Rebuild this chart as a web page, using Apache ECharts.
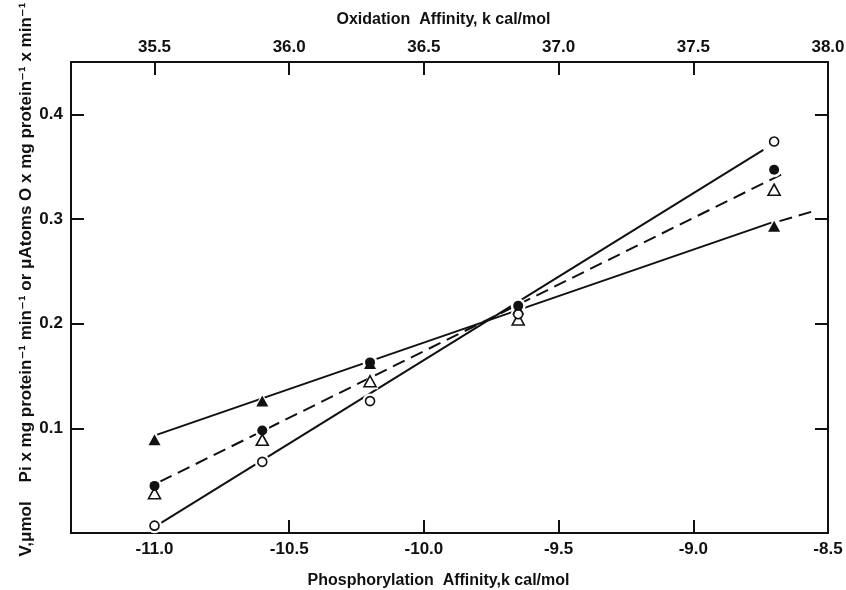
<!DOCTYPE html>
<html>
<head>
<meta charset="utf-8">
<script src="https://cdn.jsdelivr.net/npm/echarts@6/dist/echarts.min.js"></script>
<style>
  html, body { margin: 0; background: #fff; }
  #main { width: 846px; height: 590px; }
</style>
</head>
<body>
<div id="main"></div>
<script>
// phosphorylation affinity (bottom axis) of each measurement
var phosX = [-11.0, -10.6, -10.2, -9.65, -8.70];

// marker series
var openCircle     = [0.007, 0.068, 0.126, 0.209, 0.374];
var filledCircle   = [0.045, 0.098, 0.163, 0.217, 0.347];
var openTriangle   = [0.038, 0.089, 0.145, 0.204, 0.328];
var filledTriangle = [0.089, 0.126, 0.162, 0.214, 0.293];

// fitted lines (end points)
var circleFitX = [-10.98, -8.74];
var circleFitY = [0.009, 0.366];
var dashFitX = [-10.98, -8.67];
var dashFitY = [0.049, 0.343];
var triFitX = [-10.99, -8.71];
var triFitY = [0.094, 0.2965];
var triExtX = [-8.68, -8.56];
var triExtY = [0.298, 0.307];

// tick labels
var phosTicks = [-11.0, -10.5, -10.0, -9.5, -9.0, -8.5];
var oxTicks = [35.5, 36.0, 36.5, 37.0, 37.5, 38.0];
var yTicks = [0.1, 0.2, 0.3, 0.4];

var FONT = "'Liberation Sans', 'DejaVu Sans', sans-serif";
var INK = '#111';

function pairs(xs, ys) {
  return xs.map(function (x, i) { return [x, ys[i]]; });
}

var tickStyle = { show: true, inside: true, length: 13, lineStyle: { color: INK, width: 2 } };
var lineStyleAxis = { show: true, onZero: false, lineStyle: { color: INK, width: 2 } };
var labelStyle = { color: INK, fontFamily: FONT, fontSize: 17, fontWeight: 'bold' };

function fitLine(xs, ys, dashed) {
  return {
    type: 'line', data: pairs(xs, ys), symbol: 'none', z: 1, silent: true,
    lineStyle: { color: INK, width: 2, type: dashed ? [13, 7] : 'solid' }
  };
}

function halo(ys, sym) {
  return {
    type: 'scatter', data: pairs(phosX, ys), symbol: sym, z: 2, silent: true,
    symbolSize: sym === 'circle' ? 15 : [17, 16],
    itemStyle: { color: '#fff', opacity: 1 }
  };
}

function marks(ys, sym, filled) {
  return {
    type: 'scatter', data: pairs(phosX, ys), symbol: sym, z: 3, silent: true,
    symbolSize: sym === 'circle' ? (filled ? 10 : 9) : [12, 11],
    itemStyle: filled ? { color: INK, opacity: 1 }
                      : { color: '#fff', borderColor: INK, borderWidth: 1.6, opacity: 1 }
  };
}

var chart = echarts.init(document.getElementById('main'));

var option = {
  backgroundColor: '#fff',
  animation: false,
  grid: { left: 71, right: 18, top: 62, bottom: 57, containLabel: false, outerBoundsMode: 'none' },
  xAxis: [{
    type: 'value', position: 'bottom', min: -11.31, max: -8.5,
    axisLine: lineStyleAxis, splitLine: { show: false },
    axisTick: Object.assign({ customValues: phosTicks }, tickStyle),
    axisLabel: Object.assign({ customValues: phosTicks, margin: 8,
      formatter: function (v) { return v.toFixed(1); } }, labelStyle),
    name: 'Phosphorylation  Affinity,k cal/mol', nameLocation: 'middle', nameGap: 40,
    nameTextStyle: { color: INK, fontFamily: FONT, fontSize: 16, fontWeight: 'bold', padding: [0, 22, 0, 0] }
  }, {
    type: 'value', position: 'top', min: 35.19, max: 38.0,
    axisLine: lineStyleAxis, splitLine: { show: false },
    axisTick: Object.assign({ customValues: oxTicks }, tickStyle),
    axisLabel: Object.assign({ customValues: oxTicks, margin: 6,
      formatter: function (v) { return v.toFixed(1); } }, labelStyle),
    name: 'Oxidation  Affinity, k cal/mol', nameLocation: 'middle', nameGap: 34,
    nameTextStyle: { color: INK, fontFamily: FONT, fontSize: 16, fontWeight: 'bold', padding: [0, 12, 0, 0] }
  }],
  yAxis: [{
    type: 'value', position: 'left', min: 0, max: 0.45,
    axisLine: lineStyleAxis, splitLine: { show: false },
    axisTick: Object.assign({ customValues: yTicks }, tickStyle),
    axisLabel: Object.assign({ customValues: yTicks, margin: 8,
      formatter: function (v) { return v.toFixed(1); } }, labelStyle),
    name: 'V,\u03bcmol    Pi x mg protein\u207b\u00b9 min\u207b\u00b9 or \u03bcAtoms O x mg protein\u207b\u00b9 x min\u207b\u00b9',
    nameLocation: 'middle', nameGap: 36, nameRotate: 90, nameMoveOverlap: false,
    nameTextStyle: { color: INK, fontFamily: FONT, fontSize: 17, fontWeight: 'bold', padding: [0, 0, 0, 36] }
  }, {
    type: 'value', position: 'right', min: 0, max: 0.45,
    axisLine: lineStyleAxis, splitLine: { show: false },
    axisTick: Object.assign({ customValues: yTicks }, tickStyle),
    axisLabel: { show: false }
  }],
  series: [
    fitLine(circleFitX, circleFitY, false),
    fitLine(dashFitX, dashFitY, true),
    fitLine(triFitX, triFitY, false),
    fitLine(triExtX, triExtY, true),
    halo(openCircle, 'circle'),
    halo(filledCircle, 'circle'),
    halo(openTriangle, 'triangle'),
    halo(filledTriangle, 'triangle'),
    marks(openTriangle, 'triangle', false),
    marks(filledTriangle, 'triangle', true),
    marks(openCircle, 'circle', false),
    marks(filledCircle, 'circle', true)
  ]
};

chart.setOption(option);
</script>
</body>
</html>
